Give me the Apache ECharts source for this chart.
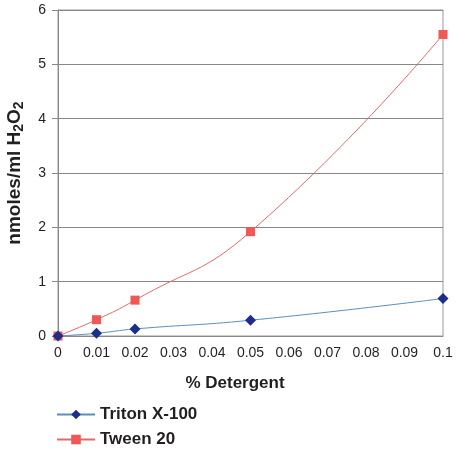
<!DOCTYPE html>
<html>
<head>
<meta charset="utf-8">
<script src="https://cdn.jsdelivr.net/npm/echarts@6/dist/echarts.min.js"></script>
<style>
  html, body { margin: 0; padding: 0; background: #fff; }
  #chart { width: 459px; height: 450px; }
</style>
</head>
<body>
<div id="chart"></div>
<script>
////--------------------------------------------------------------------////
const detergent   = [0, 0.01, 0.02, 0.05, 0.1];
const triton_vals = [0, 0.05, 0.13, 0.29, 0.69];
const tween_vals  = [0, 0.30, 0.66, 1.92, 5.55];
const series_names = ['Triton X-100', 'Tween 20'];
const x_ticks = [0, 0.01, 0.02, 0.03, 0.04, 0.05, 0.06, 0.07, 0.08, 0.09, 0.1];
const y_ticks = [0, 1, 2, 3, 4, 5, 6];
////--------------------------------------------------------------------////
function pairs(xs, ys) {
    return xs.map((x, i) => [x, ys[i]]);
}
////-------------------////
const font = 'Liberation Sans, Arial, sans-serif';
const chart = echarts.init(document.getElementById('chart'), null, {renderer: 'canvas'});
const option = {
    animation: false,
    backgroundColor: '#fff',
    grid: {
        left: 58, right: 16, top: 10, bottom: 114,
        outerBoundsMode: 'none',
        show: true, borderColor: '#999', borderWidth: 1
    },
    legend: {
        orient: 'vertical',
        left: 51, top: 401,
        height: 60,
        itemWidth: 38, itemHeight: 12, itemGap: 8,
        textStyle: {fontFamily: font, fontWeight: 'bold', fontSize: 17, color: '#231f20'},
        data: series_names
    },
    xAxis: {
        type: 'value',
        min: x_ticks[0], max: x_ticks[x_ticks.length - 1], interval: 0.01,
        name: '% Detergent',
        nameLocation: 'middle',
        nameGap: 39,
        nameTextStyle: {fontFamily: font, fontWeight: 'bold', fontSize: 17, color: '#231f20', padding: [0, 31, 0, 0]},
        axisLine: {lineStyle: {color: '#888', width: 1}},
        axisTick: {show: false},
        splitLine: {show: false},
        axisLabel: {
            fontFamily: font, fontSize: 14, color: '#231f20', margin: 10,
            formatter: v => String(Math.round(v * 100) / 100)
        }
    },
    yAxis: {
        type: 'value',
        min: y_ticks[0], max: y_ticks[y_ticks.length - 1], interval: 1,
        name: '{b|nmoles/ml H}{s|2}{b|O}{s|2}',
        nameLocation: 'middle',
        nameGap: 32,
        nameRotate: 90,
        nameTextStyle: {
            rich: {
                b: {fontFamily: font, fontWeight: 'bold', fontSize: 19, color: '#231f20'},
                s: {fontFamily: font, fontWeight: 'bold', fontSize: 14, color: '#231f20', padding: [9, 0, 0, 0]}
            }
        },
        axisLine: {show: true, lineStyle: {color: '#888', width: 1}},
        axisTick: {show: true, inside: false, length: 6, lineStyle: {color: '#888'}},
        splitLine: {show: true, lineStyle: {color: '#888', width: 1}},
        axisLabel: {fontFamily: font, fontSize: 14, color: '#231f20', margin: 12}
    },
    series: [
        {
            name: series_names[0],
            type: 'line',
            data: pairs(detergent, triton_vals),
            smooth: 0.5,
            symbol: 'diamond',
            symbolSize: 11,
            itemStyle: {color: '#1e2d8c'},
            lineStyle: {color: '#5a8ec2', width: 1},
            z: 3
        },
        {
            name: series_names[1],
            type: 'line',
            data: pairs(detergent, tween_vals),
            smooth: 0.5,
            symbol: 'rect',
            symbolSize: 9,
            itemStyle: {color: '#f05757'},
            lineStyle: {color: '#e46a6a', width: 1},
            z: 2
        }
    ]
};
chart.setOption(option);
window.addEventListener('resize', chart.resize);
</script>
</body>
</html>
